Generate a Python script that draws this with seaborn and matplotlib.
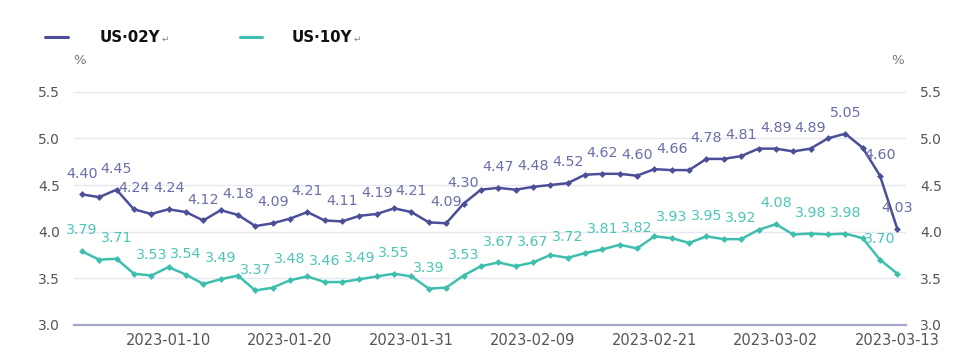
import numpy as np
import pandas as pd
import matplotlib
matplotlib.use("Agg")
import matplotlib.pyplot as plt
import seaborn as sns
from matplotlib.lines import Line2D

# ---------------- data ----------------
dates = pd.bdate_range("2023-01-03", "2023-03-13", freq="C",
                       holidays=["2023-01-16", "2023-02-20"]).strftime("%Y-%m-%d").tolist()
us02y = [4.40, 4.37, 4.45, 4.24, 4.19, 4.24, 4.21, 4.12, 4.23, 4.18, 4.06, 4.09,
         4.14, 4.21, 4.12, 4.11, 4.17, 4.19, 4.25, 4.21, 4.10, 4.09, 4.30, 4.45,
         4.47, 4.45, 4.48, 4.50, 4.52, 4.61, 4.62, 4.62, 4.60, 4.67, 4.66, 4.66,
         4.78, 4.78, 4.81, 4.89, 4.89, 4.86, 4.89, 5.00, 5.05, 4.90, 4.60, 4.03]
us10y = [3.79, 3.70, 3.71, 3.55, 3.53, 3.62, 3.54, 3.44, 3.49, 3.53, 3.37, 3.40,
         3.48, 3.52, 3.46, 3.46, 3.49, 3.52, 3.55, 3.52, 3.39, 3.40, 3.53, 3.63,
         3.67, 3.63, 3.67, 3.75, 3.72, 3.77, 3.81, 3.86, 3.82, 3.95, 3.93, 3.88,
         3.95, 3.92, 3.92, 4.02, 4.08, 3.97, 3.98, 3.97, 3.98, 3.93, 3.70, 3.55]
labels_02y_idx = [0, 2, 3, 5, 7, 9, 11, 13, 15, 17, 19, 21, 22, 24, 26, 28, 30,
                  32, 34, 36, 38, 40, 42, 44, 46, 47]
labels_10y_idx = list(range(0, 47, 2))
xtick_idx = [5, 12, 19, 26, 33, 40, 47]
yticks = [3.0, 3.5, 4.0, 4.5, 5.0, 5.5]
series_names = ["US·02Y", "US·10Y"]

C02 = "#4a4f98"
C10 = "#3ebfae"
L02 = "#6a6fa8"
L10 = "#4cc6b6"

df = pd.DataFrame({
    "idx": list(range(len(dates))) * 2,
    "value": us02y + us10y,
    "series": [series_names[0]] * len(dates) + [series_names[1]] * len(dates),
})

sns.set_theme(style="white")
plt.rcParams["font.family"] = ["DejaVu Sans"]

fig = plt.figure(figsize=(9.78, 3.63), dpi=100)
ax = fig.add_axes([74 / 978, 38 / 363, 832 / 978, 233.3 / 363])

sns.lineplot(data=df, x="idx", y="value", hue="series",
             palette={series_names[0]: C02, series_names[1]: C10},
             marker="D", markersize=3.5, markeredgewidth=0, linewidth=1.8,
             legend=False, ax=ax, zorder=3)

ax.set_xlim(-0.45, 47.5)
ax.set_ylim(3.0, 5.5)
ax.set_yticks(yticks)
ax.set_yticklabels([f"{v:.1f}" for v in yticks])
ax.grid(axis="y", color="#e7e7f2", linewidth=1.0, zorder=0)
ax.grid(axis="x", visible=False)
for s in ["top", "right", "left"]:
    ax.spines[s].set_visible(False)
ax.spines["bottom"].set_color("#a4a8cc")
ax.spines["bottom"].set_linewidth(1.6)
ax.tick_params(axis="y", length=0, pad=10, labelsize=10, labelcolor="#555555")
ax.set_xticks(xtick_idx)
ax.set_xticklabels([dates[i] for i in xtick_idx])
ax.tick_params(axis="x", length=0, pad=6, labelsize=10.5, labelcolor="#555555")
ax.set_xlabel("")
ax.set_ylabel("")

ax2 = ax.twinx()
ax2.set_ylim(3.0, 5.5)
ax2.set_yticks(yticks)
ax2.set_yticklabels([f"{v:.1f}" for v in yticks])
for s in ax2.spines.values():
    s.set_visible(False)
ax2.tick_params(axis="y", length=0, pad=10, labelsize=10, labelcolor="#555555")
ax2.grid(False)

# data labels
for i in labels_02y_idx:
    ax.annotate(f"{us02y[i]:.2f}", (i, us02y[i]), xytext=(0, 15),
                textcoords="offset points", ha="center", va="center",
                fontsize=10.3, color=L02, zorder=4, annotation_clip=False)
for i in labels_10y_idx:
    ax.annotate(f"{us10y[i]:.2f}", (i, us10y[i]), xytext=(0, 15),
                textcoords="offset points", ha="center", va="center",
                fontsize=10.3, color=L10, zorder=4, annotation_clip=False)

# unit labels
fig.text(80 / 978, 1 - 60 / 363, "%", ha="center", va="center", fontsize=9.5, color="#777777")
fig.text(898 / 978, 1 - 60 / 363, "%", ha="center", va="center", fontsize=9.5, color="#777777")

# legend
ly = 1 - 37 / 363
fig.add_artist(Line2D([45 / 978, 68 / 978], [ly, ly], color=C02, linewidth=2.2))
fig.add_artist(Line2D([240 / 978, 262 / 978], [ly, ly], color=C10, linewidth=2.2))
fig.text(100 / 978, ly, series_names[0], ha="left", va="center",
         fontsize=10.8, fontweight="bold", color="#111111")
fig.text(292 / 978, ly, series_names[1], ha="left", va="center",
         fontsize=10.8, fontweight="bold", color="#111111")
fig.text(162 / 978, ly - 0.005, "↵", ha="left", va="center", fontsize=6.5, color="#888888")
fig.text(354 / 978, ly - 0.005, "↵", ha="left", va="center", fontsize=6.5, color="#888888")

fig.savefig("out.png", dpi=100)
